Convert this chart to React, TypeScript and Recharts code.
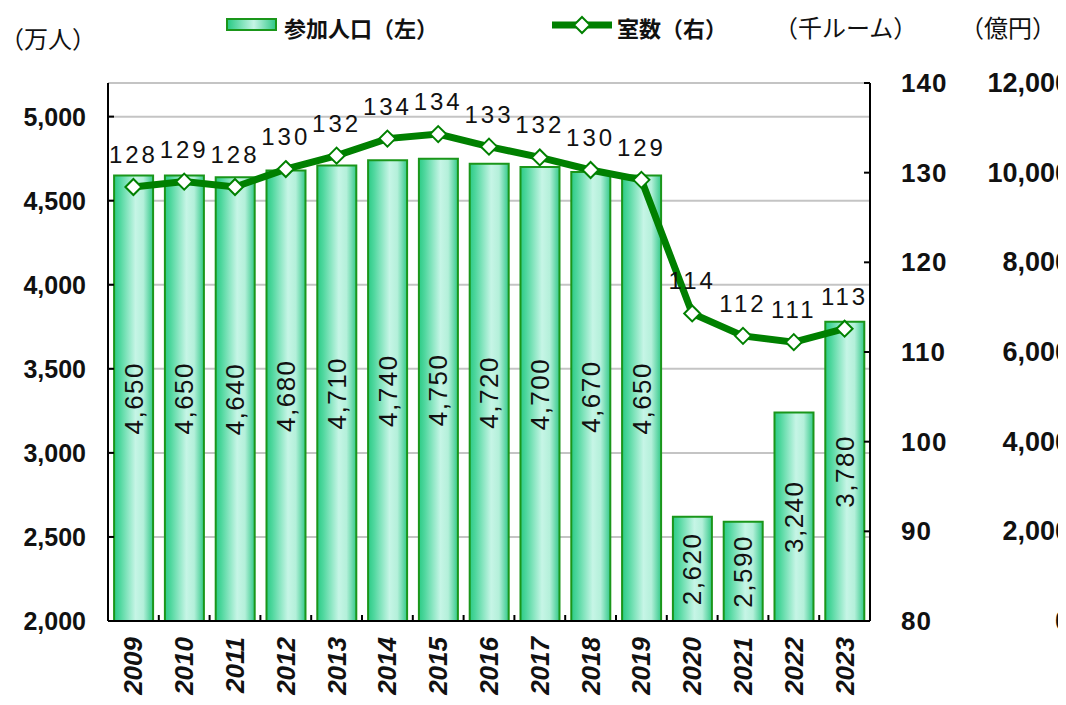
import { ComposedChart, Bar, Line, XAxis, YAxis, CartesianGrid, LabelList } from 'recharts';

const FONT = '"Liberation Sans", "Noto Sans CJK JP", Arial, sans-serif';

const years = ['2009', '2010', '2011', '2012', '2013', '2014', '2015', '2016', '2017', '2018', '2019', '2020', '2021', '2022', '2023'];
// 参加人口 (万人), left axis
const participants = [4650, 4650, 4640, 4680, 4710, 4740, 4750, 4720, 4700, 4670, 4650, 2620, 2590, 3240, 3780];
// 室数 (千ルーム), right axis
const rooms = [128.4, 129.0, 128.4, 130.4, 131.9, 133.8, 134.3, 132.9, 131.7, 130.3, 129.2, 114.3, 111.8, 111.1, 112.6];

const leftTicks = [2000, 2500, 3000, 3500, 4000, 4500, 5000];
const roomTicks = [80, 90, 100, 110, 120, 130, 140];
const yenTicks = [0, 2000, 4000, 6000, 8000, 10000, 12000];

const data = years.map((year, i) => ({ year, participants: participants[i], rooms: rooms[i] }));

const BAND = 762 / years.length;

const LeftTick = (props: any) => {
  const { x, y, payload } = props;
  return (
    <g>
      <line x1={x + 22} x2={x + 28} y1={y} y2={y} stroke="#000" strokeWidth={2} />
      <text x={x} y={y} textAnchor="end" dominantBaseline="central" fontSize={25} fontWeight="bold" fill="#111" fontFamily={FONT}>
        {payload.value.toLocaleString('en-US')}
      </text>
    </g>
  );
};

const RoomTick = (props: any) => {
  const { x, y, payload } = props;
  return (
    <g>
      <line x1={x - 31} x2={x - 37} y1={y} y2={y} stroke="#000" strokeWidth={2} />
      <text x={x} y={y} textAnchor="start" dominantBaseline="central" fontSize={26} letterSpacing={1} fontWeight="bold" fill="#111" fontFamily={FONT}>
        {payload.value}
      </text>
    </g>
  );
};

const YenTick = (props: any) => {
  const { x, y, payload } = props;
  return (
    <text x={x} y={y} textAnchor="end" dominantBaseline="central" fontSize={27} fontWeight="bold" fill="#111" fontFamily={FONT}>
      {payload.value.toLocaleString('en-US')}
    </text>
  );
};

const YearTick = (props: any) => {
  const { x, y, payload, index } = props;
  const axisY = y - 16;
  return (
    <g>
      {index < years.length - 1 && (
        <line x1={x + BAND / 2} x2={x + BAND / 2} y1={axisY} y2={axisY - 6} stroke="#000" strokeWidth={2} />
      )}
      <text
        x={x}
        y={y}
        transform={`rotate(-90, ${x}, ${y})`}
        textAnchor="end"
        dominantBaseline="central"
        fontSize={26}
        fontWeight="bold"
        fontStyle="italic"
        fill="#111"
        fontFamily={FONT}
      >
        {payload.value}
      </text>
    </g>
  );
};

const BarValue = (props: any) => {
  const { x, y, width, height, value } = props;
  const cx = x + width / 2;
  const cy = y + height / 2;
  return (
    <text
      x={cx}
      y={cy}
      transform={`rotate(-90, ${cx}, ${cy})`}
      textAnchor="middle"
      dominantBaseline="central"
      fontSize={26}
      letterSpacing={1.5}
      fill="#111"
      fontFamily={FONT}
    >
      {Number(value).toLocaleString('en-US')}
    </text>
  );
};

const RoomValue = (props: any) => {
  const { x, y, value } = props;
  return (
    <text x={x} y={y - 24} textAnchor="middle" fontSize={24} letterSpacing={3} fill="#111" fontFamily={FONT}>
      {Math.round(value)}
    </text>
  );
};

const Diamond = (props: any) => {
  const { cx, cy, index } = props;
  const r = 8;
  return (
    <polygon
      key={`d-${index}`}
      points={`${cx},${cy - r} ${cx + r},${cy} ${cx},${cy + r} ${cx - r},${cy}`}
      fill="#fff"
      stroke="#008000"
      strokeWidth={2}
    />
  );
};

export default function App() {
  return (
    <div style={{ position: 'relative', width: 1058, height: 697, fontFamily: FONT, color: '#111' }}>
      <ComposedChart width={1058} height={697} data={data} margin={{ top: 75, right: 0, bottom: 0, left: 0 }} barCategoryGap="12%">
        <defs>
          <linearGradient id="barGrad" x1="0" y1="0" x2="1" y2="0">
            <stop offset="0%" stopColor="#2ccb86" />
            <stop offset="15%" stopColor="#4fd79e" />
            <stop offset="55%" stopColor="#c6f5e6" />
            <stop offset="75%" stopColor="#b4f0da" />
            <stop offset="100%" stopColor="#34c98a" />
          </linearGradient>
        </defs>
        <CartesianGrid vertical={false} yAxisId="left" stroke="#c4c4c4" strokeWidth={2} />
        <XAxis
          dataKey="year"
          height={84}
          interval={0}
          tickSize={0}
          tickMargin={16}
          tick={<YearTick />}
          axisLine={{ stroke: '#000', strokeWidth: 2 }}
          tickLine={false}
        />
        <YAxis
          yAxisId="left"
          width={100}
          domain={[2000, 5200]}
          ticks={leftTicks}
          allowDataOverflow
          tickSize={0}
          tickMargin={22}
          tick={<LeftTick />}
          axisLine={{ stroke: '#000', strokeWidth: 2 }}
          tickLine={false}
        />
        <YAxis
          yAxisId="rooms"
          orientation="right"
          width={105}
          domain={[80, 140]}
          ticks={roomTicks}
          allowDataOverflow
          tickSize={0}
          tickMargin={31}
          tick={<RoomTick />}
          axisLine={{ stroke: '#000', strokeWidth: 2 }}
          tickLine={false}
        />
        <YAxis
          yAxisId="yen"
          orientation="right"
          type="number"
          width={91}
          domain={[0, 12000]}
          ticks={yenTicks}
          allowDataOverflow
          tickSize={0}
          tickMargin={95}
          tick={<YenTick />}
          axisLine={false}
          tickLine={false}
        />
        <Bar yAxisId="left" dataKey="participants" fill="url(#barGrad)" stroke="#1a961a" strokeWidth={2} isAnimationActive={false}>
          <LabelList dataKey="participants" content={<BarValue />} />
        </Bar>
        <Line
          yAxisId="rooms"
          dataKey="rooms"
          stroke="#008000"
          strokeWidth={7}
          dot={<Diamond />}
          activeDot={false}
          isAnimationActive={false}
        >
          <LabelList dataKey="rooms" content={<RoomValue />} />
        </Line>
      </ComposedChart>

      {/* legend */}
      <div style={{ position: 'absolute', left: 218, top: 10, width: 51, height: 13, border: '2px solid #1a961a', boxSizing: 'border-box', background: 'linear-gradient(to right, #2ccb86, #c6f5e6 55%, #34c98a)' }} />
      <div style={{ position: 'absolute', left: 276, top: 3, fontSize: 22, fontWeight: 'bold', whiteSpace: 'nowrap' }}>参加人口（左）</div>
      <svg style={{ position: 'absolute', left: 542, top: 6, overflow: 'visible' }} width={64} height={22}>
        <line x1={2} x2={62} y1={11} y2={11} stroke="#008000" strokeWidth={7} />
        <polygon points="32,3 40,11 32,19 24,11" fill="#fff" stroke="#008000" strokeWidth={2} />
      </svg>
      <div style={{ position: 'absolute', left: 609, top: 3, fontSize: 22, fontWeight: 'bold', whiteSpace: 'nowrap' }}>室数（右）</div>

      {/* axis units */}
      <div style={{ position: 'absolute', left: -8, top: 12, fontSize: 24, whiteSpace: 'nowrap' }}>（万人）</div>
      <div style={{ position: 'absolute', left: 766, top: 1, fontSize: 24, whiteSpace: 'nowrap' }}>（千ルーム）</div>
      <div style={{ position: 'absolute', left: 952, top: 1, fontSize: 24, whiteSpace: 'nowrap' }}>（億円）</div>
    </div>
  );
}
